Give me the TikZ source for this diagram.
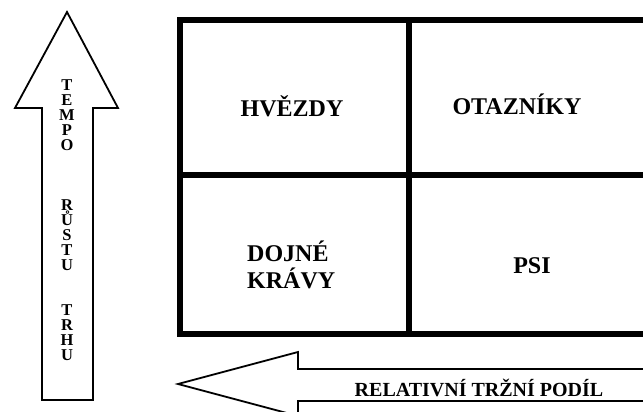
\documentclass[tikz,border=0pt]{standalone}
\usepackage{fontspec}
\setmainfont{Liberation Serif}
\begin{document}
\begin{tikzpicture}[x=1pt,y=-1pt,
  gridline/.style={line width=5.5pt, line cap=rect},
  bigarrow/.style={draw, line width=1.8pt, line join=miter, fill=white},
  celllabel/.style={font=\fontsize{24}{27}\selectfont\bfseries, align=left, inner sep=0pt},
  vletters/.style={font=\fontsize{16.5}{15}\selectfont\bfseries, align=center, inner sep=0pt},
  axislabel/.style={font=\fontsize{20}{22}\selectfont\bfseries, inner sep=0pt}]
\useasboundingbox (0,0) rectangle (643,412);
\clip (0,0) rectangle (643,412);
\fill[white] (0,0) rectangle (643,412);

% growth-rate arrow (pointing up)
\draw[bigarrow] (67,12) -- (118,108) -- (93,108) -- (93,400) -- (42,400) -- (42,108) -- (15,108) -- cycle;
\node[vletters] (tempo) at (67,115) {T\\E\\M\\P\\O};
\node[vletters] (rustu) at (67,235) {R\\Ů\\S\\T\\U};
\node[vletters] (trhu)  at (67,332.5) {T\\R\\H\\U};

% relative market share arrow (pointing left)
\draw[bigarrow] (660,369) -- (298,369) -- (298,352) -- (178,384) -- (298,416) -- (298,401) -- (660,401);
\node[axislabel] (share) at (479,388) {RELATIVNÍ TRŽNÍ PODÍL};

% the four-cell matrix
\coordinate (tl) at (180,20);
\coordinate (bl) at (180,334);
\draw[gridline] (660,20) -- (tl) -- (bl) -- (660,334);
\draw[gridline] (180,175) -- (660,175);
\draw[gridline] (409,20) -- (409,334);

\node[celllabel] (stars) at (292,106) {HVĚZDY};
\node[celllabel] (question) at (517,104) {OTAZNÍKY};
\node[celllabel, anchor=west] (cows) at (247,265) {DOJNÉ\\KRÁVY};
\node[celllabel] (dogs) at (532,266) {PSI};
\end{tikzpicture}
\end{document}
